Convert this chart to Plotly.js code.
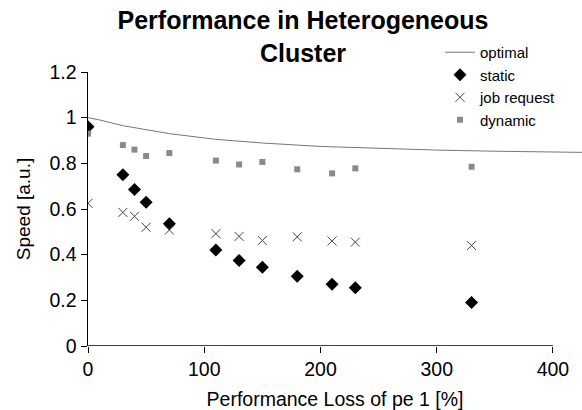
<!DOCTYPE html>
<html><head><meta charset="utf-8">
<script src="https://cdn.plot.ly/plotly-3.0.1.min.js"></script>
<style>html,body{margin:0;padding:0;background:#fff}#chart{width:582px;height:410px}</style>
</head><body><div id="chart"></div>
<script>
const xLoss = [0, 30, 40, 50, 70, 110, 130, 150, 180, 210, 230, 330];
const staticSpeed = [0.96, 0.75, 0.685, 0.63, 0.535, 0.42, 0.375, 0.345, 0.305, 0.27, 0.255, 0.19];
const jobRequestSpeed = [0.625, 0.585, 0.568, 0.52, 0.508, 0.492, 0.48, 0.462, 0.478, 0.46, 0.455, 0.44];
const dynamicSpeed = [0.93, 0.88, 0.86, 0.832, 0.845, 0.812, 0.795, 0.806, 0.774, 0.756, 0.778, 0.785];
const optimalX = [0, 10, 30, 50, 70, 110, 150, 200, 250, 300, 350, 400, 425];
const optimalSpeed = [1.0, 0.99, 0.965, 0.946, 0.93, 0.905, 0.889, 0.874, 0.865, 0.858, 0.853, 0.85, 0.848];
const xTicks = [0, 100, 200, 300, 400];
const yTicks = [0, 0.2, 0.4, 0.6, 0.8, 1, 1.2];

const F = 'Arial, "Liberation Sans", sans-serif';
const traces = [
  {x: optimalX, y: optimalSpeed, name: 'optimal', mode: 'lines', line: {color: '#777', width: 1}},
  {x: xLoss, y: staticSpeed, name: 'static', mode: 'markers', marker: {symbol: 'diamond', size: 10, color: '#000'}},
  {x: xLoss, y: jobRequestSpeed, name: 'job request', mode: 'markers', marker: {symbol: 'x-thin', size: 9, color: '#444', line: {color: '#444', width: 1}}},
  {x: xLoss, y: dynamicSpeed, name: 'dynamic', mode: 'markers', marker: {symbol: 'square', size: 6, color: '#8a8a8a'}}
];
const layout = {
  width: 582, height: 410,
  margin: {l: 88, r: 0, t: 72, b: 64},
  paper_bgcolor: '#fff', plot_bgcolor: '#fff',
  font: {family: F, color: '#000', size: 19.5},
  showlegend: true,
  title: {text: '<b>Performance in Heterogeneous<br>Cluster</b>', x: 303/582, xanchor: 'center', y: 1 - 29/410, yanchor: 'top', font: {family: F, size: 25, color: '#000'}},
  legend: {x: (440-88)/494, xanchor: 'left', y: 1 + (72-36)/274, yanchor: 'top', font: {family: F, size: 15, color: '#000'}, bgcolor: 'rgba(0,0,0,0)', tracegroupgap: 0},
  xaxis: {range: [0, 425], tickvals: xTicks, ticktext: xTicks.map(String), ticks: 'outside', ticklen: 6, tickcolor: '#000', showline: false, zeroline: false, showgrid: false,
          tickfont: {size: 19.5}, title: {text: 'Performance Loss of pe 1 [%]', font: {size: 19.5}, standoff: 12}},
  yaxis: {range: [0, 1.2], tickvals: yTicks, ticktext: yTicks.map(String), ticks: 'outside', ticklen: 6, tickcolor: '#000', showline: true, linecolor: '#000', linewidth: 1.5, zeroline: false, showgrid: false,
          tickfont: {size: 19.5}, title: {text: 'Speed [a.u.]', font: {size: 19}, standoff: 14}},
  shapes: [{type: 'line', xref: 'x', yref: 'y', x0: 0, x1: 400, y0: 0, y1: 0, line: {color: '#000', width: 1.5}, layer: 'below'}]
};
Plotly.newPlot('chart', traces, layout, {staticPlot: true, displayModeBar: false});
</script></body></html>
